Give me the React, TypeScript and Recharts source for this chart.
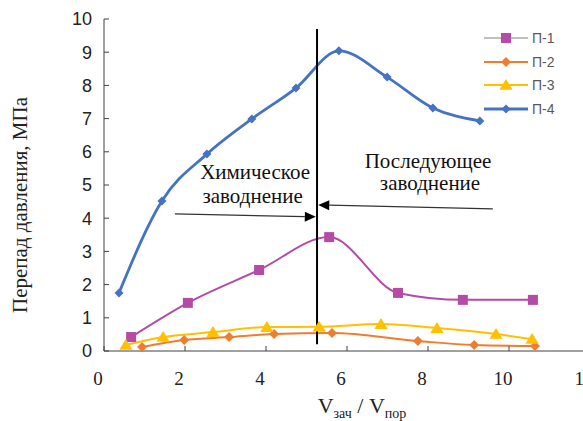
import React from 'react';
import { LineChart, Line, XAxis, YAxis, ReferenceLine, ReferenceDot } from 'recharts';

// measured points, x = Vзач / Vпор, y = pressure drop, MPa
const p1X = [0.67, 2.07, 3.83, 5.56, 7.26, 8.86, 10.59];
const p1Y = [0.42, 1.45, 2.44, 3.43, 1.75, 1.54, 1.54];

const p2X = [0.94, 1.98, 3.09, 4.2, 5.63, 7.75, 9.14, 10.64];
const p2Y = [0.12, 0.33, 0.42, 0.51, 0.54, 0.3, 0.18, 0.15];

const p3X = [0.54, 1.46, 2.69, 4.02, 5.31, 6.84, 8.22, 9.68, 10.57];
const p3Y = [0.18, 0.42, 0.57, 0.72, 0.73, 0.81, 0.69, 0.51, 0.36];

const p4X = [0.37, 1.43, 2.54, 3.65, 4.74, 5.8, 6.99, 8.12, 9.28];
const p4Y = [1.75, 4.52, 5.93, 6.99, 7.92, 9.04, 8.25, 7.32, 6.93];

const xTicks = [0, 2, 4, 6, 8, 10, 12];
const yTicks = [0, 1, 2, 3, 4, 5, 6, 7, 8, 9, 10];

// boundary between stages and the two arrows
const boundaryX = 5.26;
const boundaryY = [0.2, 9.7];
const arrows = [
  { x1: 1.75, y1: 4.13, x2: 5.23, y2: 4.04 },
  { x1: 9.6, y1: 4.28, x2: 5.29, y2: 4.4 },
];
// text baselines
const notes = [
  { x: 3.73, y: 5.18, text: 'Химическое' },
  { x: 3.67, y: 4.46, text: 'заводнение' },
  { x: 8.0, y: 5.51, text: 'Последующее' },
  { x: 8.05, y: 4.85, text: 'заводнение' },
];

const toRows = (xs: number[], ys: number[]) => xs.map((x, i) => ({ x, y: ys[i] }));

const SERIF = "'Times New Roman', 'Liberation Serif', 'DejaVu Serif', serif";
const SANS = "Arial, 'Liberation Sans', sans-serif";
const AXIS = '#404040';

const Square = (color: string, s: number) => (p: any) =>
  <rect key={p.index} x={p.cx - s / 2} y={p.cy - s / 2} width={s} height={s} fill={color} />;
const Diamond = (color: string, s: number) => (p: any) =>
  <polygon key={p.index} points={`${p.cx},${p.cy - s} ${p.cx + s},${p.cy} ${p.cx},${p.cy + s} ${p.cx - s},${p.cy}`} fill={color} />;
const Triangle = (color: string, s: number) => (p: any) =>
  <polygon key={p.index} points={`${p.cx},${p.cy - s} ${p.cx + s * 1.1},${p.cy + s * 0.8} ${p.cx - s * 1.1},${p.cy + s * 0.8}`} fill={color} />;

const series = [
  { name: 'П-1', data: toRows(p1X, p1Y), color: '#B44BA6', legendLine: '#BFBFBF', width: 2, dot: Square('#B44BA6', 10) },
  { name: 'П-2', data: toRows(p2X, p2Y), color: '#ED7D31', legendLine: '#ED7D31', width: 2, dot: Diamond('#ED7D31', 5) },
  { name: 'П-3', data: toRows(p3X, p3Y), color: '#FFC000', legendLine: '#FFC000', width: 2, dot: Triangle('#FFC000', 6) },
  { name: 'П-4', data: toRows(p4X, p4Y), color: '#4472C4', legendLine: '#4472C4', width: 2.8, dot: Diamond('#4472C4', 4.5) },
];

const Arrow = (p: any) => {
  const { x1, y1, x2, y2 } = p;
  const a = Math.atan2(y2 - y1, x2 - x1);
  const L = 11, W = 5;
  const bx = x2 - L * Math.cos(a), by = y2 - L * Math.sin(a);
  const nx = -Math.sin(a) * W, ny = Math.cos(a) * W;
  return (
    <g>
      <line x1={x1} y1={y1} x2={bx} y2={by} stroke="#333" strokeWidth={1.2} />
      <polygon points={`${x2},${y2} ${bx + nx},${by + ny} ${bx - nx},${by - ny}`} fill="#000" />
    </g>
  );
};

const Legend = () => (
  <div style={{ position: 'absolute', left: 482, top: 26, fontFamily: SANS, fontSize: 14, color: '#595959' }}>
    {series.map((s) => (
      <div key={s.name} style={{ display: 'flex', alignItems: 'center', height: 23.7 }}>
        <svg width={48} height={16}>
          <line x1={2} y1={8} x2={46} y2={8} stroke={s.legendLine} strokeWidth={s.width} />
          {s.dot({ cx: 24, cy: 8, index: 0 })}
        </svg>
        <span style={{ marginLeft: 2 }}>{s.name}</span>
      </div>
    ))}
  </div>
);

export default function App() {
  return (
    <div style={{ position: 'absolute', left: 0, top: 0, width: 583, height: 421, overflow: 'hidden', background: '#fff' }}>
      <LineChart width={600} height={421} margin={{ top: 19, right: 10, left: 0, bottom: 0 }}>
        <XAxis
          type="number"
          dataKey="x"
          domain={[0, 12]}
          ticks={xTicks}
          height={70}
          stroke={AXIS}
          tickSize={-5}
          tickMargin={26}
          tick={{ fill: '#222', fontFamily: SERIF, fontSize: 19, dx: -6 }}
          label={{
            content: ({ viewBox }: any) => (
              <text x={viewBox.x + viewBox.width / 2 + 15} y={viewBox.y + 62} textAnchor="middle" style={{ fontFamily: SERIF, fontSize: 22 }} fill="#222">
                <tspan>V</tspan>
                <tspan dy={5} style={{ fontSize: 14 }}>зач</tspan>
                <tspan dy={-5}> / V</tspan>
                <tspan dy={5} style={{ fontSize: 14 }}>пор</tspan>
              </text>
            ),
          }}
        />
        <YAxis
          type="number"
          dataKey="y"
          domain={[0, 10]}
          ticks={yTicks}
          width={104}
          stroke={AXIS}
          tickSize={-5}
          tickMargin={17}
          tick={{ fill: '#222', fontFamily: SANS, fontSize: 18 }}
          label={{
            content: ({ viewBox }: any) => {
              const cx = viewBox.x + 22;
              const cy = viewBox.y + viewBox.height / 2 + 20;
              return (
                <text x={cx} y={cy} transform={`rotate(-90 ${cx} ${cy})`} textAnchor="middle" dominantBaseline="middle" style={{ fontFamily: SERIF, fontSize: 21 }} fill="#222">
                  Перепад давления, МПа
                </text>
              );
            },
          }}
        />
        {series.map((s) => (
          <Line
            key={s.name}
            name={s.name}
            data={s.data}
            dataKey="y"
            type="monotone"
            stroke={s.color}
            strokeWidth={s.width}
            dot={s.dot}
            activeDot={false}
            isAnimationActive={false}
          />
        ))}
        <ReferenceLine
          segment={[{ x: boundaryX, y: boundaryY[0] }, { x: boundaryX, y: boundaryY[1] }]}
          stroke="#000"
          strokeWidth={2}
        />
        {arrows.map((a, i) => (
          <ReferenceLine key={i} segment={[{ x: a.x1, y: a.y1 }, { x: a.x2, y: a.y2 }]} shape={Arrow} />
        ))}
        {notes.map((n, i) => (
          <ReferenceDot
            key={i}
            x={n.x}
            y={n.y}
            r={0}
            fill="none"
            stroke="none"
            label={{
              content: ({ viewBox }: any) => (
                <text
                  x={viewBox.x + viewBox.width / 2}
                  y={viewBox.y + viewBox.height / 2}
                  textAnchor="middle"
                  style={{ fontFamily: SERIF, fontSize: 21 }}
                  fill="#111"
                >
                  {n.text}
                </text>
              ),
            }}
          />
        ))}
      </LineChart>
      <Legend />
    </div>
  );
}
